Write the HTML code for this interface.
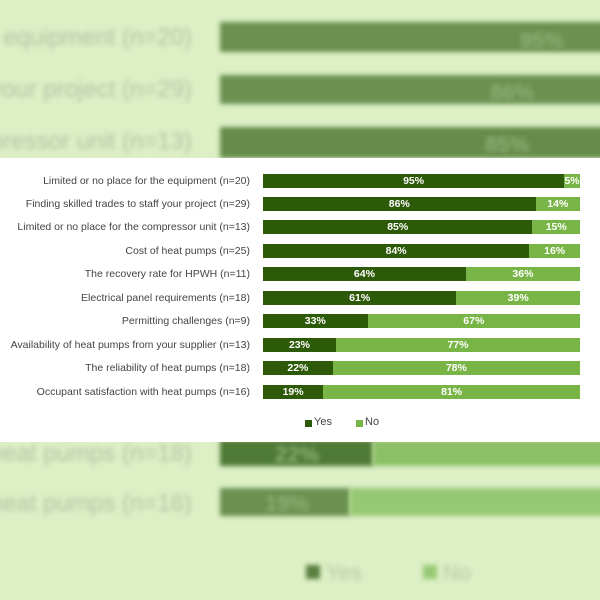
<!DOCTYPE html>
<html><head><style>
body{margin:0;width:600px;height:600px;overflow:hidden;background:#dcefc5;font-family:"Liberation Sans",sans-serif;position:relative}
.bg{position:absolute;left:0;top:0;width:600px;height:600px;overflow:hidden}
.bg div{position:absolute;filter:blur(2.5px)}
.bl{color:#b4c4a6;font-size:24px;text-align:right;white-space:nowrap;right:408px}
.panel{position:absolute;left:0;top:158px;width:600px;height:284px;background:#fff}
.lab{position:absolute;right:350px;font-size:10.5px;color:#444;white-space:nowrap;line-height:14px}
.bar{position:absolute;left:263px;height:14px;width:317px;display:flex}
.bar span{display:block;height:14px;color:#fff;font-size:10.5px;font-weight:bold;text-align:center;line-height:14px;white-space:nowrap}
.y{background:#2d5a08}.n{background:#79b546}
.pv{color:#8fb074;font-size:22px;font-weight:bold}
</style></head><body>
<div class="bg">
<div class="bl" style="top:24px">o equipment (n=20)</div>
<div class="bl" style="top:76px">your project (n=29)</div>
<div class="bl" style="top:128px">ompressor unit (n=13)</div>
<div style="left:220px;top:22px;width:400px;height:30px;background:#6b9150"></div>
<div style="left:220px;top:75px;width:400px;height:29px;background:#6b9150"></div>
<div style="left:220px;top:127px;width:400px;height:31px;background:#668c4b"></div>
<div class="pv" style="left:520px;top:28px">95%</div>
<div class="pv" style="left:490px;top:80px">86%</div>
<div class="pv" style="left:485px;top:132px">85%</div>
<div class="bl" style="top:440px">heat pumps (n=18)</div>
<div class="bl" style="top:490px">heat pumps (n=16)</div>
<div style="left:220px;top:440px;width:153px;height:26px;background:#4e7a36"></div>
<div style="left:373px;top:440px;width:240px;height:26px;background:#8cc066"></div>
<div style="left:220px;top:488px;width:130px;height:28px;background:#6b9150"></div>
<div style="left:350px;top:488px;width:260px;height:28px;background:#97c974"></div>
<div class="pv" style="left:275px;top:442px">22%</div>
<div class="pv" style="left:265px;top:491px">19%</div>
<div style="left:306px;top:565px;width:14px;height:14px;background:#5a8040"></div>
<div style="left:326px;top:560px;color:#b8c8a8;font-size:22px">Yes</div>
<div style="left:423px;top:565px;width:14px;height:14px;background:#97c974"></div>
<div style="left:443px;top:560px;color:#b8c8a8;font-size:22px">No</div>
</div>
<div class="panel">
<div class="lab" style="top:16px">Limited or no place for the equipment (n=20)</div>
<div class="lab" style="top:39px">Finding skilled trades to staff your project (n=29)</div>
<div class="lab" style="top:62px">Limited or no place for the compressor unit (n=13)</div>
<div class="lab" style="top:86px">Cost of heat pumps (n=25)</div>
<div class="lab" style="top:109px">The recovery rate for HPWH (n=11)</div>
<div class="lab" style="top:133px">Electrical panel requirements (n=18)</div>
<div class="lab" style="top:156px">Permitting challenges (n=9)</div>
<div class="lab" style="top:180px">Availability of heat pumps from your supplier (n=13)</div>
<div class="lab" style="top:203px">The reliability of heat pumps (n=18)</div>
<div class="lab" style="top:227px">Occupant satisfaction with heat pumps (n=16)</div>
<div class="bar" style="top:16px"><span class="y" style="width:95%">95%</span><span class="n" style="width:5%">5%</span></div>
<div class="bar" style="top:39px"><span class="y" style="width:86%">86%</span><span class="n" style="width:14%">14%</span></div>
<div class="bar" style="top:62px"><span class="y" style="width:85%">85%</span><span class="n" style="width:15%">15%</span></div>
<div class="bar" style="top:86px"><span class="y" style="width:84%">84%</span><span class="n" style="width:16%">16%</span></div>
<div class="bar" style="top:109px"><span class="y" style="width:64%">64%</span><span class="n" style="width:36%">36%</span></div>
<div class="bar" style="top:133px"><span class="y" style="width:61%">61%</span><span class="n" style="width:39%">39%</span></div>
<div class="bar" style="top:156px"><span class="y" style="width:33%">33%</span><span class="n" style="width:67%">67%</span></div>
<div class="bar" style="top:180px"><span class="y" style="width:23%">23%</span><span class="n" style="width:77%">77%</span></div>
<div class="bar" style="top:203px"><span class="y" style="width:22%">22%</span><span class="n" style="width:78%">78%</span></div>
<div class="bar" style="top:227px"><span class="y" style="width:19%">19%</span><span class="n" style="width:81%">81%</span></div>
<div style="position:absolute;left:305px;top:262px;width:7px;height:7px;background:#2d5a08"></div>
<div style="position:absolute;left:314px;top:258px;font-size:11px;color:#444">Yes</div>
<div style="position:absolute;left:356px;top:262px;width:7px;height:7px;background:#79b546"></div>
<div style="position:absolute;left:365px;top:258px;font-size:11px;color:#444">No</div>
</div>
</body></html>
